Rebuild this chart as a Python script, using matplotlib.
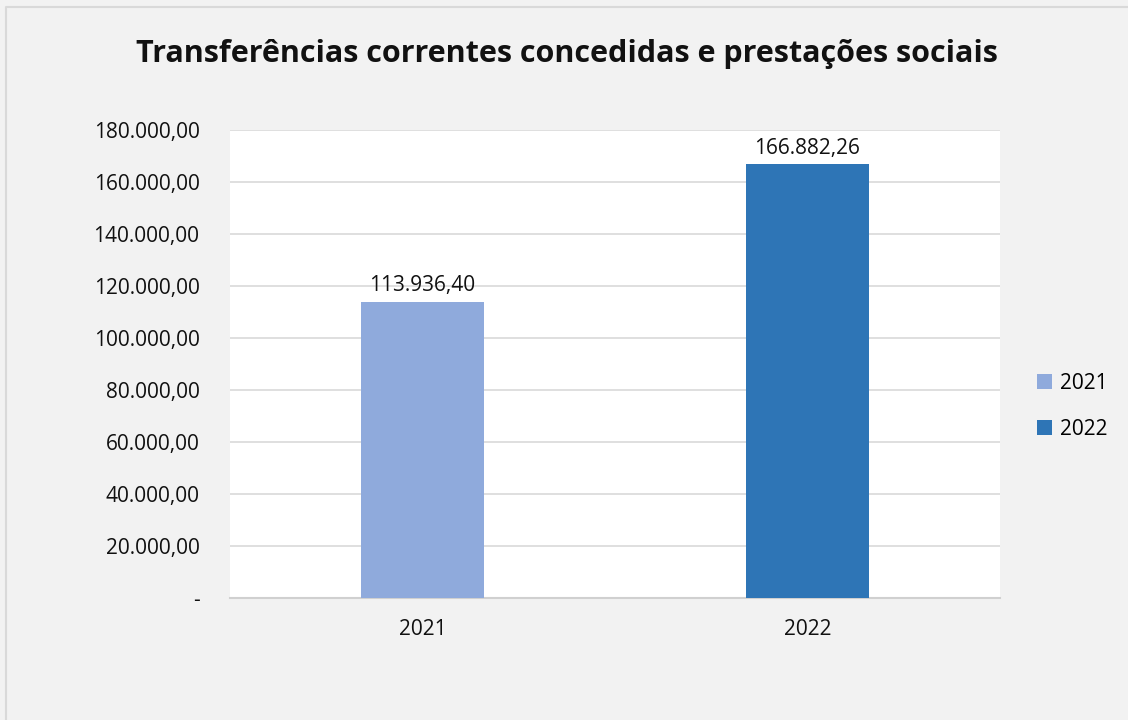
import matplotlib.pyplot as plt
from matplotlib.lines import Line2D
from matplotlib.ticker import FuncFormatter

# dados
anos = ['2021', '2022']
valores = [113936.40, 166882.26]
cores = ['#8faadc', '#2e75b6']
yticks = [0, 20000, 40000, 60000, 80000, 100000, 120000, 140000, 160000, 180000]

plt.rcParams['font.family'] = ['Open Sans', 'DejaVu Sans']

def fmt_br(v, pos=None):
    if v == 0:
        return '-'
    s = f'{v:,.2f}'
    return s.replace(',', 'X').replace('.', ',').replace('X', '.')

fig = plt.figure(figsize=(11.28, 7.2), dpi=100, facecolor='#f2f2f2')
# borda do gráfico (só esquerda e topo aparecem)
bx, by = 6 / 1128, 1 - 7 / 720
fig.lines.append(Line2D([bx, bx, 1], [0, by, by], transform=fig.transFigure,
                        color='#d9d9d9', linewidth=1.5))

ax = fig.add_axes([230 / 1128, 1 - 598 / 720, 770 / 1128, 468 / 720])
ax.set_facecolor('white')

for i, (ano, v, c) in enumerate(zip(anos, valores, cores)):
    ax.bar(i, v, width=0.317, color=c, label=ano, zorder=3)
    ax.annotate(fmt_br(v), (i, v), xytext=(0, 7.5), textcoords='offset points',
                ha='center', va='baseline', fontsize=15, color='#111111')

ax.set_xlim(-0.5, 1.5)
ax.set_ylim(0, 180000)
ax.set_yticks(yticks)
ax.yaxis.set_major_formatter(FuncFormatter(fmt_br))
ax.set_xticks(range(len(anos)))
ax.set_xticklabels(anos)
ax.grid(axis='y', color='#d9d9d9', linewidth=1.2, zorder=0)
ax.tick_params(axis='both', length=0, labelsize=15, colors='#111111')
ax.tick_params(axis='x', pad=15)
ax.tick_params(axis='y', pad=22)
for s in ['top', 'right', 'left']:
    ax.spines[s].set_visible(False)
ax.spines['bottom'].set_color('#d0d0d0')
ax.spines['bottom'].set_linewidth(1.5)

fig.suptitle('Transferências correntes concedidas e prestações sociais', x=0.503, y=0.925,
             va='center', fontsize=22, fontweight='bold', color='#111111')

ax.legend(loc='center left', bbox_to_anchor=(1.048, 0.41), frameon=False, fontsize=15,
          handlelength=0.7, handleheight=0.7, labelspacing=1.2, handletextpad=0.4,
          borderaxespad=0, borderpad=0)

fig.savefig('out.png', facecolor=fig.get_facecolor())
